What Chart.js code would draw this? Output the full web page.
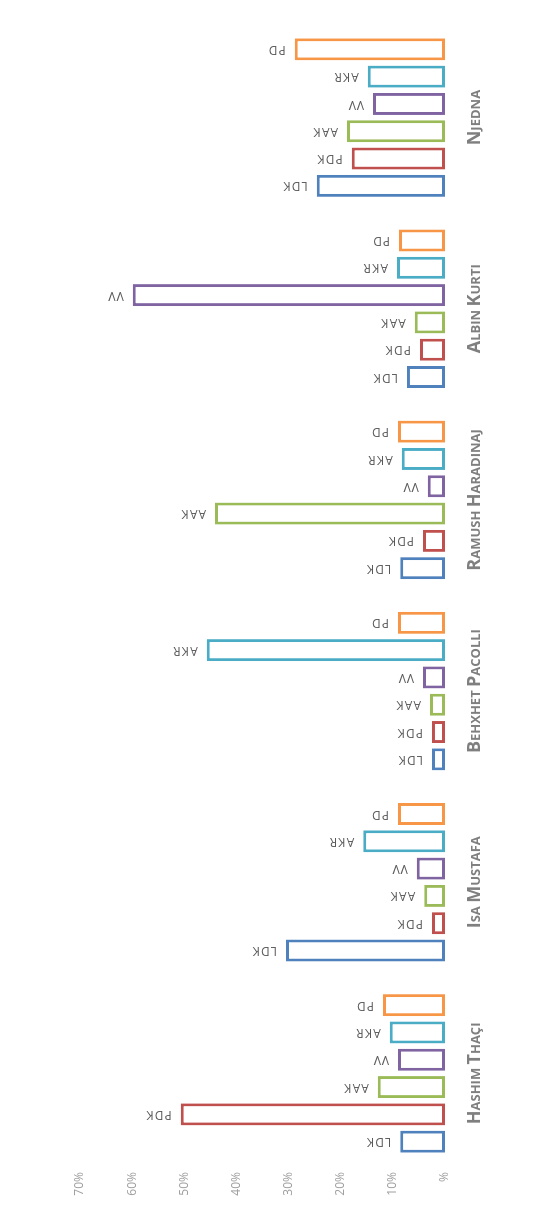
<!DOCTYPE html>
<html lang="sq">
<head>
  <meta charset="UTF-8" />
  <title>Candidates by party voters</title>
  <script src="https://cdn.jsdelivr.net/npm/chart.js"></script>
  <style>
    html, body {
      margin: 0;
      padding: 0;
      background: #fff;
      overflow: hidden;
    }
    /* chart is drawn landscape, then turned a quarter to the left */
    #wrap {
      position: absolute;
      left: 0;
      top: 0;
      width: 1209px;
      height: 546px;
      transform-origin: 0 0;
      transform: translate(0, 1209px) rotate(-90deg);
    }
  </style>
</head>
<body>
  <div id="wrap">
    <canvas id="myChart" width="1209" height="546"></canvas>
  </div>

  <script>
    const candidates = ['Hashim Thaçi', 'Isa Mustafa', 'Behxhet Pacolli', 'Ramush Haradinaj', 'Albin Kurti', 'Njedna'];
    const parties = ['LDK', 'PDK', 'AAK', 'VV', 'AKR', 'PD'];
    const partyColors = ['#4f81bd', '#c0504d', '#9bbb59', '#8064a2', '#4bacc6', '#f79646'];

    // share of each candidate among voters of a party (%)
    const ldk = [8.6, 30.5, 2.5, 8.6, 7.3, 24.6];
    const pdk = [50.7, 2.5, 2.5, 4.2, 4.8, 17.9];
    const aak = [12.9, 4.0, 2.9, 44.1, 5.8, 18.8];
    const vv = [9.0, 5.4, 4.2, 3.3, 59.9, 13.8];
    const akr = [10.6, 15.7, 45.7, 8.3, 9.2, 14.8];
    const pd = [11.9, 9.0, 9.0, 9.0, 8.8, 28.8];
    const seriesValues = [ldk, pdk, aak, vv, akr, pd];

    const yTicks = [0, 10, 20, 30, 40, 50, 60, 70];

    // party name written above each bar, turned on its side
    const barLabels = {
      id: 'barLabels',
      afterDatasetsDraw(chart) {
        const ctx = chart.ctx;
        ctx.save();
        ctx.font = '12px "Open Sans", sans-serif';
        ctx.letterSpacing = '1px';
        ctx.fillStyle = '#595959';
        ctx.textAlign = 'left';
        ctx.textBaseline = 'middle';
        chart.data.datasets.forEach((ds, i) => {
          chart.getDatasetMeta(i).data.forEach(bar => {
            ctx.save();
            ctx.translate(bar.x, bar.y - 9);
            ctx.rotate(-Math.PI / 2);
            ctx.fillText(ds.label, 0, 0);
            ctx.restore();
          });
        });
        ctx.restore();
      }
    };

    // candidate names in small capitals under each group
    const smallCapsLabels = {
      id: 'smallCapsLabels',
      afterDraw(chart) {
        const ctx = chart.ctx;
        const big = 'bold 18px "Open Sans", sans-serif';
        const small = 'bold 13px "Open Sans", sans-serif';
        const baseY = chart.chartArea.bottom + 35;
        ctx.save();
        ctx.fillStyle = '#7f7f7f';
        ctx.textAlign = 'left';
        ctx.textBaseline = 'alphabetic';
        chart.data.labels.forEach((name, i) => {
          const parts = [];
          name.split(' ').forEach((w, k) => {
            if (k > 0) parts.push({ t: ' ', f: small });
            parts.push({ t: w[0].toUpperCase(), f: big });
            if (w.length > 1) parts.push({ t: w.slice(1).toUpperCase(), f: small });
          });
          let total = 0;
          parts.forEach(p => { ctx.font = p.f; p.w = ctx.measureText(p.t).width; total += p.w; });
          let x = chart.scales.x.getPixelForValue(i) - total / 2;
          parts.forEach(p => { ctx.font = p.f; ctx.fillText(p.t, x, baseY); x += p.w; });
        });
        ctx.restore();
      }
    };

    const ctx = document.getElementById('myChart').getContext('2d');
    new Chart(ctx, {
      type: 'bar',
      data: {
        labels: candidates,
        datasets: parties.map((p, i) => ({
          label: p,
          data: seriesValues[i],
          backgroundColor: '#ffffff',
          borderColor: partyColors[i],
          borderWidth: 3,
          borderSkipped: false,
          categoryPercentage: 0.857,
          barPercentage: 0.806
        }))
      },
      options: {
        responsive: false,
        animation: false,
        layout: {
          padding: { top: 80, right: 22, bottom: 0, left: 0 }
        },
        plugins: {
          legend: { display: false },
          tooltip: { enabled: false }
        },
        scales: {
          x: {
            grid: { display: false, drawTicks: false },
            border: { display: false },
            ticks: { display: false },
            afterFit: s => { s.height = 101; }
          },
          y: {
            min: 0,
            max: 70,
            afterBuildTicks: s => { s.ticks = yTicks.map(v => ({ value: v })); },
            grid: { display: false, drawTicks: false },
            border: { display: false },
            ticks: {
              padding: 3,
              color: '#a0a0a0',
              font: { family: '"Open Sans", sans-serif', size: 12 },
              callback: v => (v === 0 ? '%' : v + '%')
            },
            afterFit: s => { s.width = 40; }
          }
        }
      },
      plugins: [barLabels, smallCapsLabels]
    });
  </script>
</body>
</html>
